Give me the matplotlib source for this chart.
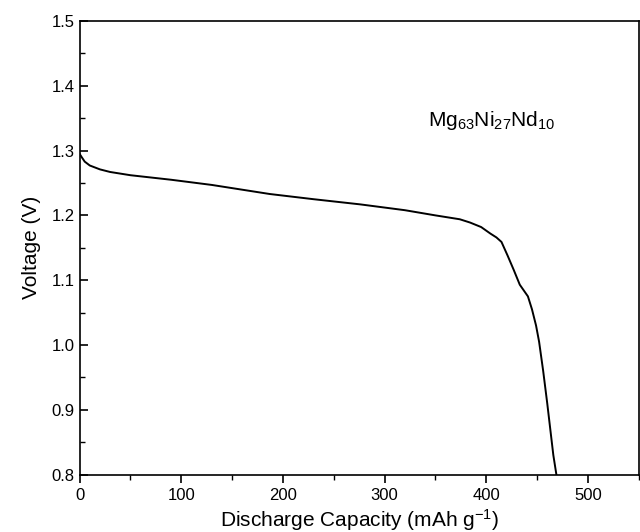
import matplotlib.pyplot as plt
from matplotlib.ticker import MultipleLocator

plt.rcParams['font.family'] = ['Liberation Sans', 'DejaVu Sans']

# discharge curve
capacity = [0, 2, 5, 10, 20, 30, 50, 90, 130, 187, 230, 276, 320, 350, 374,
            384, 395, 404, 410, 415, 421, 427, 433, 437, 441, 445, 449, 452,
            456, 460, 463, 466, 469]
voltage = [1.295, 1.290, 1.283, 1.277, 1.271, 1.267, 1.262, 1.255, 1.247,
           1.233, 1.225, 1.217, 1.208, 1.200, 1.194, 1.189, 1.182, 1.172,
           1.166, 1.159, 1.138, 1.116, 1.093, 1.084, 1.075, 1.055, 1.030,
           1.005, 0.960, 0.910, 0.870, 0.830, 0.800]

fig = plt.figure(figsize=(6.4, 5.32), dpi=100)
ax = fig.add_axes([0.1244, 0.108, 0.8736, 0.8525])

ax.plot(capacity, voltage, color='black', linewidth=1.4)

ax.set_xlim(0, 550)
ax.set_ylim(0.8, 1.5)
ax.xaxis.set_major_locator(MultipleLocator(100))
ax.xaxis.set_minor_locator(MultipleLocator(50))
ax.yaxis.set_major_locator(MultipleLocator(0.1))
ax.yaxis.set_minor_locator(MultipleLocator(0.05))

ax.tick_params(axis='x', which='both', direction='out', top=False)
ax.tick_params(axis='y', which='both', direction='in', right=False)
ax.tick_params(which='major', length=6, width=1.2, labelsize=12)
ax.tick_params(which='minor', length=3.5, width=1.0)
for s in ax.spines.values():
    s.set_linewidth(1.2)

ax.set_xlabel(r'Discharge Capacity (mAh g$\mathregular{^{-1}}$)', fontsize=15, labelpad=3)
ax.set_ylabel('Voltage (V)', fontsize=15, labelpad=8)

ax.text(0.623, 0.7685, r'$\mathregular{Mg_{63}Ni_{27}Nd_{10}}$', transform=ax.transAxes,
        fontsize=15, va='baseline')

fig.savefig('out.png', dpi=100)
